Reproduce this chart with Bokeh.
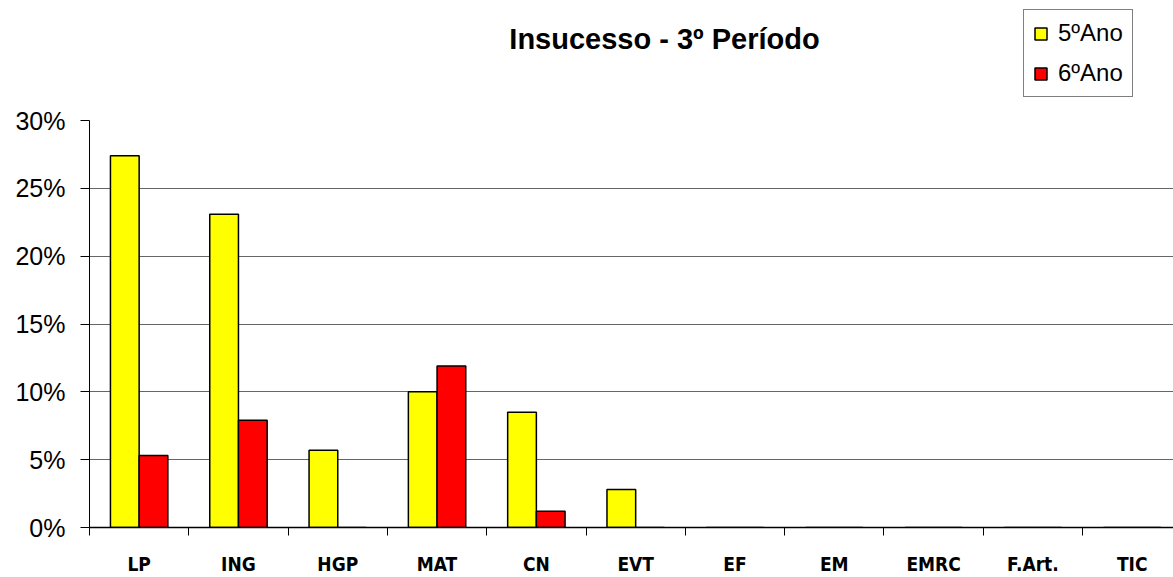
from bokeh.plotting import figure
from bokeh.models import (ColumnDataSource, FixedTicker, NumeralTickFormatter,
                          Range1d, Label)
from bokeh.embed import file_html
from bokeh.resources import INLINE
from bokeh.transform import dodge

# ---- data ----
categories = ["LP", "ING", "HGP", "MAT", "CN", "EVT", "EF", "EM", "EMRC", "F.Art.", "TIC"]
ano5 = [0.274, 0.231, 0.057, 0.100, 0.085, 0.028, 0, 0, 0, 0, 0]
ano6 = [0.053, 0.079, 0, 0.119, 0.012, 0, 0, 0, 0, 0, 0]
y_ticks = [0, 0.05, 0.10, 0.15, 0.20, 0.25, 0.30]
title_text = "Insucesso - 3º Período"
series_names = ["5ºAno", "6ºAno"]

idx = list(range(len(categories)))
src = ColumnDataSource(dict(x=idx, a5=ano5, a6=ano6))

W, H = 1173, 577
p = figure(width=W, height=H, output_backend="svg", toolbar_location=None,
           x_range=Range1d(-0.5, 10.416), y_range=Range1d(0, 0.3885),
           min_border_left=89, min_border_right=0, min_border_top=0,
           min_border_bottom=40)
p.outline_line_color = None
p.background_fill_color = "white"
p.border_fill_color = "white"

bw = 0.289
p.vbar(x=dodge("x", -bw / 2), top="a5", width=bw, source=src,
       fill_color="#FFFF00", line_color="black", line_width=1.5,
       legend_label=series_names[0])
p.vbar(x=dodge("x", bw / 2), top="a6", width=bw, source=src,
       fill_color="#FF0000", line_color="black", line_width=1.5,
       legend_label=series_names[1])

# x axis: labels at centers, ticks at category boundaries
xa = p.xaxis[0]
xa.ticker = FixedTicker(ticks=idx, minor_ticks=[i - 0.5 for i in range(len(categories) + 1)])
xa.major_label_overrides = {i: c for i, c in enumerate(categories)}
xa.major_tick_out = 0
xa.major_tick_in = 0
xa.minor_tick_out = 8
xa.minor_tick_in = 0
xa.minor_tick_line_color = "black"
xa.axis_line_color = "black"
xa.axis_line_width = 1.5
xa.major_label_standoff = 17
xa.major_label_text_font = "DejaVu Sans Condensed"
xa.major_label_text_font_style = "bold"
xa.major_label_text_font_size = "19px"
xa.major_label_text_color = "black"

ya = p.yaxis[0]
ya.ticker = FixedTicker(ticks=y_ticks)
ya.bounds = (y_ticks[0], y_ticks[-1])
ya.formatter = NumeralTickFormatter(format="0%")
ya.minor_tick_line_color = None
ya.major_tick_out = 9
ya.major_tick_in = 0
ya.major_tick_line_color = "black"
ya.axis_line_color = "black"
ya.major_label_standoff = 15
ya.major_label_text_font = "Liberation Sans"
ya.major_label_text_font_size = "25px"
ya.major_label_text_color = "black"

p.xgrid.grid_line_color = None
p.ygrid.ticker = FixedTicker(ticks=y_ticks[1:-1])
p.ygrid.grid_line_color = "#666666"
p.ygrid.grid_line_width = 1

lg = p.legend[0]
lg.location = (934, 430)
lg.border_line_color = "black"
lg.border_line_width = 1
lg.background_fill_color = "white"
lg.background_fill_alpha = 1
lg.padding = 9
lg.margin = 0
lg.spacing = 12
lg.glyph_width = 15
lg.glyph_height = 15
lg.label_standoff = 10
lg.label_text_font = "Liberation Sans"
lg.label_text_font_size = "24px"
lg.label_text_color = "black"

p.add_layout(Label(x=575, y=489, x_units="screen", y_units="screen",
                   text=title_text, text_align="center", text_baseline="middle",
                   text_font="Liberation Sans", text_font_style="bold",
                   text_font_size="29px", text_color="black"))

open("out.html", "w").write(file_html(p, INLINE))
